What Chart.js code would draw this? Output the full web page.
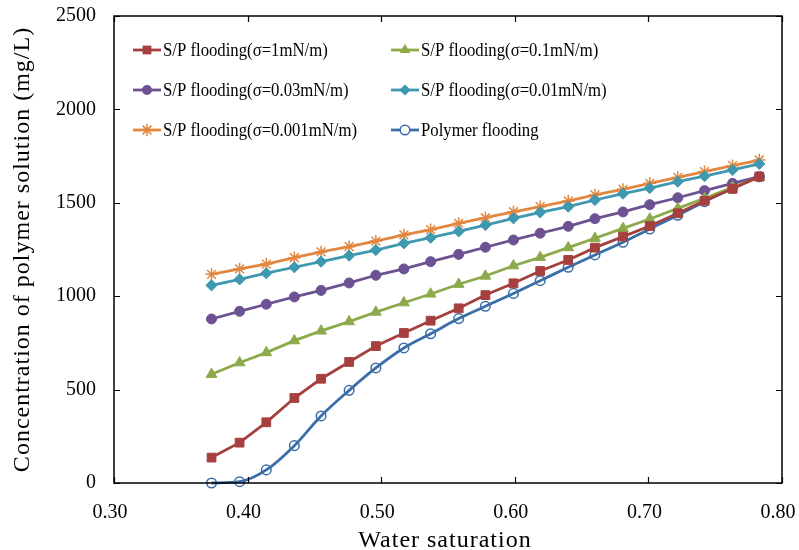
<!DOCTYPE html>
<html>
<head>
<meta charset="utf-8">
<script src="https://cdn.jsdelivr.net/npm/chart.js@4.4.1/dist/chart.umd.min.js"></script>
<style>
html,body{margin:0;padding:0;background:#fff;}
#wrap{width:799px;height:550px;position:relative;}
</style>
</head>
<body>
<div id="wrap"><canvas id="c" width="799" height="550"></canvas></div>
<script>
const xValues = [0.373,0.394,0.414,0.435,0.455,0.476,0.496,0.517,0.537,0.558,0.578,0.599,0.619,0.640,0.660,0.681,0.701,0.722,0.742,0.763,0.783];
const sp1 = [136,216,325,455,558,648,733,803,869,935,1006,1069,1135,1194,1260,1319,1376,1444,1511,1575,1640];
const sp01 = [582,644,698,762,814,864,915,965,1012,1064,1108,1163,1208,1260,1310,1363,1413,1470,1524,1583,1636];
const sp003 = [878,919,957,996,1031,1071,1112,1146,1185,1224,1262,1301,1337,1374,1415,1451,1490,1527,1565,1604,1640];
const sp001 = [1058,1090,1123,1155,1185,1217,1247,1283,1313,1347,1381,1417,1449,1479,1515,1549,1579,1613,1643,1676,1708];
const sp0001 = [1117,1146,1172,1206,1237,1265,1295,1328,1356,1390,1420,1452,1479,1510,1542,1572,1604,1636,1667,1699,1729];
const polymer = [0,7,70,200,359,496,616,723,799,880,946,1015,1083,1155,1221,1289,1360,1433,1506,1578,1640];
const seriesLabels = ["S/P flooding(σ=1mN/m)","S/P flooding(σ=0.1mN/m)","S/P flooding(σ=0.03mN/m)","S/P flooding(σ=0.01mN/m)","S/P flooding(σ=0.001mN/m)","Polymer flooding"];
const xTicks = [0.30,0.40,0.50,0.60,0.70,0.80];
const yTicks = [0,500,1000,1500,2000,2500];
const xTitle = 'Water saturation';
const yTitle = 'Concentration of polymer solution (mg/L)';

const FONT = "'Liberation Serif','Times New Roman',serif";
const toXY = arr => arr.map((v,i)=>({x:xValues[i],y:v}));

const styles = [
  {color:'#A5403E', point:'rect', r:6.2},
  {color:'#8DAA4B', point:'triangle', r:6.2},
  {color:'#6C5293', point:'circle', r:5},
  {color:'#3E98AF', point:'rectRot', r:5.6},
  {color:'#E2873F', point:'star', r:6.2},
  {color:'#3A6EA8', point:'circle', r:4.8, open:true}
];
const seriesData = [sp1, sp01, sp003, sp001, sp0001, polymer];

const datasets = seriesData.map((d,i)=>{
  const s = styles[i];
  return {
    label: seriesLabels[i],
    data: toXY(d),
    borderColor: s.color,
    backgroundColor: s.open ? 'rgba(255,255,255,0)' : s.color,
    pointBackgroundColor: s.open ? 'rgba(255,255,255,0)' : s.color,
    pointBorderColor: s.color,
    pointBorderWidth: s.open ? 1.5 : (s.point==='star' ? 1.5 : 1),
    pointStyle: s.point,
    pointRadius: s.r,
    pointHoverRadius: s.r,
    borderWidth: 2.8,
    tension: 0,
    cubicInterpolationMode: s.open ? 'monotone' : 'default',
    clip: false
  };
});

const frameTicks = {
  id:'frameTicks',
  afterDatasetsDraw(chart){
    const ctx = chart.ctx, a = chart.chartArea;
    const xs = chart.scales.x, ys = chart.scales.y;
    ctx.save();
    ctx.strokeStyle = '#000';
    ctx.lineWidth = 1.5;
    ctx.strokeRect(a.left, a.top, a.right-a.left, a.bottom-a.top);
    ctx.lineWidth = 1.2;
    ctx.beginPath();
    xTicks.forEach(v=>{
      const px = Math.round(xs.getPixelForValue(v))+0.5;
      ctx.moveTo(px, a.bottom); ctx.lineTo(px, a.bottom-6);
      ctx.moveTo(px, a.top); ctx.lineTo(px, a.top+6);
    });
    yTicks.forEach(v=>{
      const py = Math.round(ys.getPixelForValue(v))+0.5;
      ctx.moveTo(a.left, py); ctx.lineTo(a.left+6, py);
      ctx.moveTo(a.right, py); ctx.lineTo(a.right-6, py);
    });
    ctx.stroke();
    // axis titles
    ctx.fillStyle = '#000';
    ctx.font = "24px " + FONT;
    try { ctx.letterSpacing = '1px'; } catch(e) {}
    ctx.textAlign = 'center';
    ctx.textBaseline = 'alphabetic';
    ctx.fillText(xTitle, (a.left+a.right)/2 - 3, 547);
    ctx.save();
    ctx.translate(29, (a.top+a.bottom)/2);
    ctx.rotate(-Math.PI/2);
    ctx.fillText(yTitle, 0, 0);
    ctx.restore();
    ctx.restore();
  }
};

function drawMarker(ctx, s, x, y){
  const r = s.r;
  ctx.save();
  ctx.fillStyle = s.color; ctx.strokeStyle = s.color;
  ctx.beginPath();
  if (s.point==='rect'){
    const h = Math.SQRT1_2*r; ctx.rect(x-h,y-h,2*h,2*h); ctx.fill();
  } else if (s.point==='triangle'){
    ctx.moveTo(x, y-r); ctx.lineTo(x+r*0.866, y+r*0.5); ctx.lineTo(x-r*0.866, y+r*0.5); ctx.closePath(); ctx.fill();
  } else if (s.point==='rectRot'){
    ctx.moveTo(x, y-r); ctx.lineTo(x+r, y); ctx.lineTo(x, y+r); ctx.lineTo(x-r, y); ctx.closePath(); ctx.fill();
  } else if (s.point==='star'){
    ctx.lineWidth = 1.5;
    for (let k=0;k<4;k++){
      const ang = k*Math.PI/4;
      ctx.moveTo(x+Math.cos(ang)*r, y+Math.sin(ang)*r);
      ctx.lineTo(x-Math.cos(ang)*r, y-Math.sin(ang)*r);
    }
    ctx.stroke();
  } else if (s.open){
    ctx.fillStyle='#fff';
    ctx.lineWidth = 1.5;
    ctx.arc(x,y,r,0,Math.PI*2); ctx.fill(); ctx.stroke();
  } else {
    ctx.arc(x,y,r,0,Math.PI*2); ctx.fill();
  }
  ctx.restore();
}

const inLegend = {
  id:'inLegend',
  afterDraw(chart){
    const ctx = chart.ctx;
    const cols = [{l0:133,l1:161,tx:163},{l0:391,l1:419,tx:421}];
    const rows = [50,90,130];
    ctx.save();
    seriesLabels.forEach((lab,i)=>{
      const c = cols[i%2], y = rows[Math.floor(i/2)];
      const s = styles[i];
      ctx.strokeStyle = s.color; ctx.lineWidth = 2.8;
      ctx.beginPath(); ctx.moveTo(c.l0,y); ctx.lineTo(c.l1,y); ctx.stroke();
      drawMarker(ctx, s, (c.l0+c.l1)/2, y);
      ctx.save();
      ctx.translate(c.tx, y+1);
      ctx.scale(0.88, 1);
      ctx.font = "19px " + FONT;
      ctx.textBaseline = 'middle';
      ctx.textAlign = 'left';
      ctx.fillStyle = '#000';
      ctx.fillText(lab, 0, 0);
      ctx.restore();
    });
    ctx.restore();
  }
};

new Chart(document.getElementById('c'), {
  type:'line',
  data:{datasets},
  options:{
    responsive:false,
    animation:false,
    devicePixelRatio:1,
    layout:{padding:{top:16,right:17,left:0,bottom:0}},
    plugins:{legend:{display:false},tooltip:{enabled:false},title:{display:false}},
    scales:{
      x:{
        type:'linear', min:0.30, max:0.80,
        afterBuildTicks(scale){ scale.ticks = xTicks.map(v=>({value:v})); },
        afterFit(scale){ scale.height = 67; scale.paddingLeft = 0; scale.paddingRight = 0; },
        grid:{display:false, drawTicks:false},
        border:{display:false},
        ticks:{padding:18, labelOffset:-4, color:'#000', font:{family:FONT,size:20}, maxRotation:0, callback:v=>Number(v).toFixed(2)},
        title:{display:false}
      },
      y:{
        min:0, max:2500,
        afterBuildTicks(scale){ scale.ticks = yTicks.map(v=>({value:v})); },
        afterFit(scale){ scale.width = 114; scale.paddingTop = 0; scale.paddingBottom = 0; },
        grid:{display:false, drawTicks:false},
        border:{display:false},
        ticks:{padding:18, color:'#000', font:{family:FONT,size:20}, callback:v=>String(v)},
        title:{display:false}
      }
    }
  },
  plugins:[frameTicks, inLegend]
});
</script>
</body>
</html>
